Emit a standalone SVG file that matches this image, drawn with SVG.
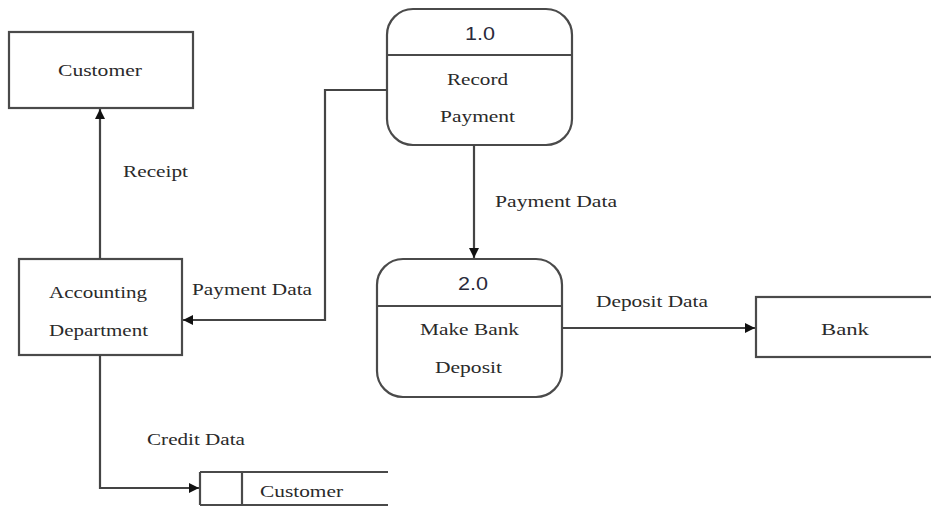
<svg xmlns="http://www.w3.org/2000/svg" width="931" height="507" viewBox="0 0 931 507">
<defs>
<marker id="ah" viewBox="0 0 10 10" refX="10" refY="5" markerWidth="10" markerHeight="10" markerUnits="userSpaceOnUse" orient="auto">
<path d="M0,0 L10,5 L0,10 z" fill="#111"/>
</marker>
<style>
.box{fill:#fff;stroke:#4a4a4a;stroke-width:2.2}
.ln{fill:none;stroke:#4a4a4a;stroke-width:2.2}
.t{font-family:"Liberation Serif","Times New Roman",serif;font-size:16.5px;fill:#2a2a2a}
.n{font-family:"Liberation Sans",Arial,sans-serif;font-size:18px;fill:#2a2a3a}
.c{fill:none;stroke:#444;stroke-width:2.2}
</style>
</defs>
<rect width="931" height="507" fill="#fff"/>
<g id="customer">
<rect class="box" x="9" y="32" width="184" height="76"/>
<text class="t" x="58" y="76" textLength="84" lengthAdjust="spacingAndGlyphs">Customer</text>
</g>
<g id="accounting">
<rect class="box" x="19" y="259" width="163" height="96"/>
<text class="t" x="49" y="298" textLength="98" lengthAdjust="spacingAndGlyphs">Accounting</text>
<text class="t" x="49" y="336" textLength="99" lengthAdjust="spacingAndGlyphs">Department</text>
</g>
<g id="p1">
<rect class="box" x="387" y="9" width="185" height="136" rx="26"/>
<line class="ln" x1="387" y1="55" x2="572" y2="55"/>
<text class="n" x="465" y="40" textLength="30" lengthAdjust="spacingAndGlyphs">1.0</text>
<text class="t" x="447" y="85" textLength="61" lengthAdjust="spacingAndGlyphs">Record</text>
<text class="t" x="440" y="122" textLength="75" lengthAdjust="spacingAndGlyphs">Payment</text>
</g>
<g id="p2">
<rect class="box" x="377" y="259" width="185" height="138" rx="26"/>
<line class="ln" x1="377" y1="306" x2="562" y2="306"/>
<text class="n" x="458" y="290" textLength="30" lengthAdjust="spacingAndGlyphs">2.0</text>
<text class="t" x="420" y="335" textLength="99" lengthAdjust="spacingAndGlyphs">Make Bank</text>
<text class="t" x="435" y="373" textLength="67" lengthAdjust="spacingAndGlyphs">Deposit</text>
</g>
<g id="bank">
<rect class="box" x="756" y="297" width="180" height="60"/>
<text class="t" x="821" y="335" textLength="48" lengthAdjust="spacingAndGlyphs">Bank</text>
</g>
<g id="store">
<line class="ln" x1="200" y1="472" x2="388" y2="472"/>
<line class="ln" x1="200" y1="505" x2="388" y2="505"/>
<line class="ln" x1="200" y1="472" x2="200" y2="505"/>
<line class="ln" x1="242" y1="472" x2="242" y2="505"/>
<text class="t" x="260" y="497" textLength="83" lengthAdjust="spacingAndGlyphs">Customer</text>
</g>
<g id="connectors">
<polyline class="c" points="100,259 100,109" marker-end="url(#ah)"/>
<polyline class="c" points="387,90 325,90 325,320 183,320" marker-end="url(#ah)"/>
<polyline class="c" points="474,145 474,258" marker-end="url(#ah)"/>
<polyline class="c" points="562,328 755,328" marker-end="url(#ah)"/>
<polyline class="c" points="100,355 100,488 199,488" marker-end="url(#ah)"/>
<text class="t" x="123" y="177" textLength="65" lengthAdjust="spacingAndGlyphs">Receipt</text>
<text class="t" x="192" y="295" textLength="120" lengthAdjust="spacingAndGlyphs">Payment Data</text>
<text class="t" x="495" y="207" textLength="122" lengthAdjust="spacingAndGlyphs">Payment Data</text>
<text class="t" x="596" y="307" textLength="112" lengthAdjust="spacingAndGlyphs">Deposit Data</text>
<text class="t" x="147" y="445" textLength="98" lengthAdjust="spacingAndGlyphs">Credit Data</text>
</g>
</svg>
